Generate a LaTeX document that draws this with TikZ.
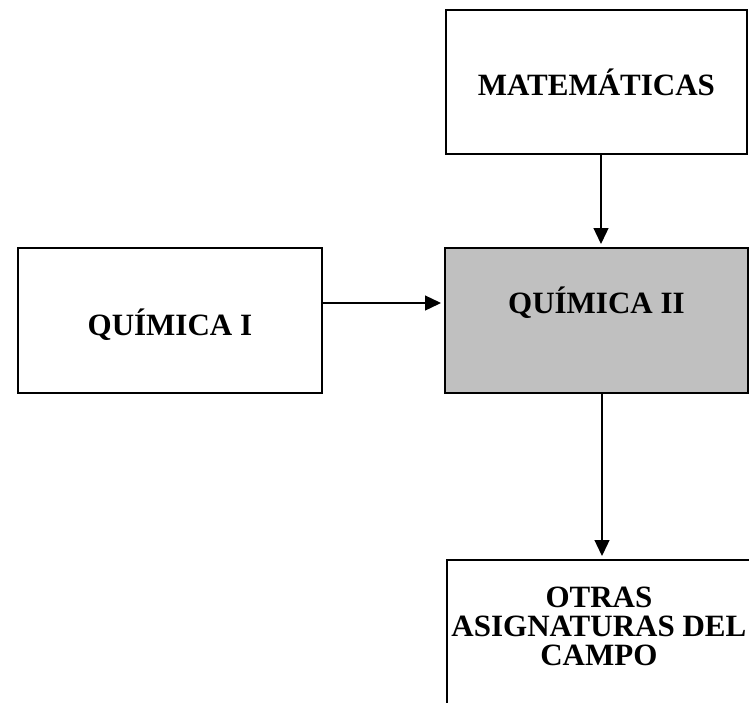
\documentclass[tikz,border=0pt]{standalone}
\usepackage{fontspec}
\setmainfont{Liberation Serif}
\usetikzlibrary{arrows.meta}
\definecolor{boxgray}{HTML}{C0C0C0}
\tikzset{
  subj/.style={draw=black, line width=1.8pt, inner sep=0pt, anchor=north west,
    font=\fontsize{31}{28}\selectfont\bfseries},
  arr/.style={draw=black, line width=1.3pt, -{Triangle[length=16pt,width=15pt]}, shorten >=3pt}
}
\begin{document}
\begin{tikzpicture}[x=1pt,y=-1pt]
\clip (0,0) rectangle (749,702);
\fill[white] (0,0) rectangle (749,702);
\node[subj, minimum width=301pt, text height=86pt, text depth=58pt] (mat) at (445,9) {MATEMÁTICAS};
\node[subj, minimum width=304pt, text height=88pt, text depth=57pt] (q1) at (17,247) {QUÍMICA I};
\node[subj, fill=boxgray, minimum width=303pt, text height=66pt, text depth=79pt] (q2) at (444,247) {QUÍMICA II};
\node[subj, minimum width=304pt, text height=48pt, text depth=123pt] (otras) at (446,559)
  {\begin{tabular}[t]{@{}c@{}}OTRAS\\ASIGNATURAS DEL\\CAMPO\end{tabular}};
\coordinate (ya) at (0,303);
\coordinate (xa) at (601,0);
\coordinate (xb) at (602,0);
\draw[arr] (q1.east |- ya) -- (q2.west |- ya);
\draw[arr] (mat.south -| xa) -- (q2.north -| xa);
\draw[arr] (q2.south -| xb) -- (otras.north -| xb);
\end{tikzpicture}
\end{document}
